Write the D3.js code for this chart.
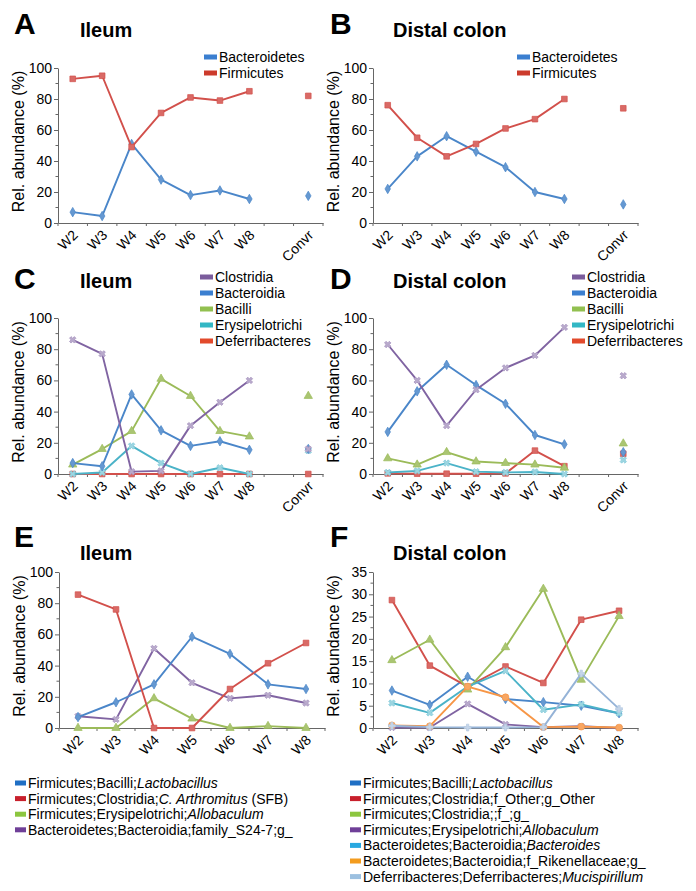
<!DOCTYPE html>
<html>
<head>
<meta charset="utf-8">
<script src="https://cdn.jsdelivr.net/npm/d3@7"></script>
<style>
  body { margin: 0; background: #fff; }
  svg { font-family: "Liberation Sans", Arial, Helvetica, sans-serif; }
</style>
</head>
<body>
<svg id="fig" width="696" height="891"></svg>
<script>
// ---- categories / ticks
const weeks = ["W2", "W3", "W4", "W5", "W6", "W7", "W8"];
const weeksConvr = ["W2", "W3", "W4", "W5", "W6", "W7", "W8", "gap", "Convr"];
const ticks100 = [0, 20, 40, 60, 80, 100];
const ticks35 = [0, 5, 10, 15, 20, 25, 30, 35];

// ---- A: ileum, phyla (W2..W8, Convr)
const ileumBacteroidetes = [7, 4.5, 51, 28, 18, 21, 15.5, 17.5];
const ileumFirmicutes = [93, 95, 49, 71, 81, 79, 85, 82];

// ---- B: distal colon, phyla
const colonBacteroidetes = [22, 43, 56, 46, 36, 20, 15.5, 12];
const colonFirmicutes = [76, 55, 43, 51, 61, 67, 80, 74];

// ---- C: ileum, classes
const ileumClostridia = [86, 77, 1.5, 2, 31, 46, 60, 16];
const ileumBacteroidia = [7, 5, 51, 28, 18, 21, 15.5, 16];
const ileumBacilli = [6, 16, 27.5, 61, 50, 27.5, 24, 50];
const ileumErysipelotrichi = [0, 1, 18, 7, 0, 4, 0, 15];
const ileumDeferribacteres = [0, 0, 0, 0, 0, 0, 0, 0];

// ---- D: distal colon, classes
const colonClostridia = [83, 60, 31, 54, 68, 76, 94, 63];
const colonBacteroidia = [27, 53, 70, 57, 45, 25, 19, 14];
const colonBacilli = [10, 6, 14, 8, 7, 6, 4, 19.5];
const colonErysipelotrichi = [1, 2, 7, 1.5, 1, 1.3, 0, 9];
const colonDeferribacteres = [0.4, 0.2, 0.2, 0.2, 0.4, 15, 5, 13];

// ---- E: ileum, genera (W2..W8)
const ileumLactobacillus = [7, 16.5, 28, 58.5, 47.5, 28, 25];
const ileumSFB = [85.5, 76, 0, 0, 25, 41.5, 54.5];
const ileumAllobaculum = [0, 0, 19, 6, 0, 1.2, 0];
const ileumS247 = [7.5, 5.5, 51, 29, 19, 21, 16];

// ---- F: distal colon, genera
const colonLactobacillus = [8.4, 5.2, 11.5, 6.5, 5.8, 5.0, 3.3];
const colonClostridiaOther = [28.7, 14, 9.3, 13.8, 10.1, 24.3, 26.3];
const colonClostridiaUnk = [15.2, 19.8, 8.6, 18.1, 31.2, 10.8, 25.1];
const colonAllobaculum = [0.1, 0.1, 5.4, 0.8, 0.2, 0.4, 0];
const colonBacteroides = [5.6, 3.4, 9.3, 12.8, 4.1, 5.3, 3.3];
const colonRikenellaceae = [0.6, 0.4, 9.3, 6.9, 0.2, 0.3, 0.1];
const colonMucispirillum = [0.5, 0.2, 0.1, 0.1, 0.2, 12.2, 4.3];

// line colours and (more saturated) legend swatch colours
const col = {
  blue: "#4a86c9", red: "#d2504b", green: "#9bbb59", purple: "#8064a2",
  aqua: "#4bb3c8", orange: "#f79646", pale: "#95b3d7"
};
const sw = {
  blue: "#3b7fd0", red: "#cc3b2c", green: "#92c050", purple: "#7b5c9c",
  aqua: "#33b7c4", redOrange: "#e24a2c",
  gBlue: "#1f6fc4", gRed: "#c8202c", gGreen: "#8cc63f", gPurple: "#6f3f98",
  gSky: "#29a8e0", gOrange: "#f39c1f", gPale: "#9cc0e0"
};

const svg = d3.select("#fig");

const symbols = {
  diamond: d3.symbol().type(d3.symbolDiamond).size(26),
  square: d3.symbol().type(d3.symbolSquare).size(32),
  triangle: d3.symbol().type(d3.symbolTriangle).size(30),
  circle: d3.symbol().type(d3.symbolCircle).size(36),
  x: d3.symbol().type(d3.symbolCross).size(26),
  plus: d3.symbol().type(d3.symbolCross).size(26)
};

function drawMarker(g, type, cx, cy, color) {
  const light = type === "x" || type === "plus";
  g.append("path")
    .attr("d", symbols[type]())
    .attr("transform", `translate(${cx},${cy})` + (type === "x" ? " rotate(45)" : ""))
    .attr("fill", d3.interpolateRgb(color, "#fff")(light ? 0.45 : 0.15))
    .attr("stroke", d3.interpolateRgb(color, "#fff")(light ? 0.3 : 0))
    .attr("stroke-width", 0.7);
}

function drawPanel(o) {
  const g = svg.append("g");
  const x = d3.scaleBand().domain(o.slots).range([o.left, o.right]);
  const y = d3.scaleLinear().domain([0, o.max]).range([o.bottom, o.top]);
  const cx = k => x(k) + x.bandwidth() / 2;

  // panel letter + title
  g.append("text").attr("x", o.letterX).attr("y", o.letterY)
    .attr("font-size", 30).attr("font-weight", "bold").text(o.letter);
  g.append("text").attr("x", o.titleX).attr("y", o.titleY)
    .attr("font-size", 20).attr("font-weight", "bold").text(o.title);

  // minor y ticks
  g.append("g").selectAll("line")
    .data(d3.pairs(o.ticks, (a, b) => (a + b) / 2))
    .join("line")
    .attr("x1", o.left - 2.5).attr("x2", o.left)
    .attr("y1", d => y(d)).attr("y2", d => y(d))
    .attr("stroke", "#666");

  const yAxisG = g.append("g")
    .attr("transform", `translate(${o.left},0)`)
    .call(d3.axisLeft(y).tickValues(o.ticks).tickSize(4).tickSizeOuter(0).tickPadding(2));
  yAxisG.attr("font-family", null).attr("font-size", 14);
  yAxisG.select(".domain").attr("stroke", "#666");
  yAxisG.selectAll(".tick line").attr("stroke", "#666");
  yAxisG.selectAll(".tick text").attr("fill", "#000");

  // x axis with rotated labels
  const xAxisG = g.append("g")
    .attr("transform", `translate(0,${o.bottom})`)
    .call(d3.axisBottom(x).tickSize(0).tickSizeOuter(0)
      .tickFormat(d => (d === "gap" ? "" : d)));
  xAxisG.attr("font-family", null).attr("font-size", 14);
  xAxisG.select(".domain").attr("stroke", "#666");
  xAxisG.selectAll(".tick text")
    .attr("y", null).attr("dy", null)
    .attr("fill", "#000")
    .attr("text-anchor", "end")
    .attr("transform", "translate(6,13) rotate(-45)");

  // small boundary ticks on x axis
  g.append("g").selectAll("line")
    .data(o.slots.map(s => x(s)).concat([o.right]))
    .join("line")
    .attr("x1", d => d).attr("x2", d => d)
    .attr("y1", o.bottom).attr("y2", o.bottom + 3)
    .attr("stroke", "#666");

  // y label
  g.append("text")
    .attr("transform", `translate(${o.left - 34},${(o.top + o.bottom) / 2 - 4}) rotate(-90)`)
    .attr("text-anchor", "middle")
    .attr("font-size", 16)
    .text("Rel. abundance (%)");

  // series
  const keys = o.slots.filter(k => k !== "gap");
  o.series.forEach(s => {
    const pts = keys.map((k, i) => ({ k, v: s.values[i] })).filter(p => p.v != null);
    const linePts = pts.filter(p => p.k !== "Convr");
    g.append("path")
      .datum(linePts)
      .attr("fill", "none")
      .attr("stroke", s.color)
      .attr("stroke-width", 1.9)
      .attr("stroke-linejoin", "round")
      .attr("d", d3.line().x(p => cx(p.k)).y(p => y(p.v)));
    pts.forEach(p => drawMarker(g, s.marker, cx(p.k), y(p.v), s.color));
  });

  // legend
  if (o.legend) {
    const lg = g.append("g");
    o.series.slice().sort((a, b) => a.order - b.order).forEach((s, i) => {
      const ly = o.legend.y + i * o.legend.dy;
      lg.append("rect").attr("x", o.legend.x).attr("y", ly - 2.5)
        .attr("width", 13).attr("height", 5).attr("fill", s.swatch);
      lg.append("text").attr("x", o.legend.x + 15).attr("y", ly + 5)
        .attr("font-size", 14).text(s.name);
    });
  }
}

// ---- A
drawPanel({
  letter: "A", letterX: 14, letterY: 34, title: "Ileum", titleX: 80, titleY: 37,
  slots: weeksConvr, left: 58, right: 323, top: 68, bottom: 223, max: 100, ticks: ticks100,
  legend: { x: 204, y: 57, dy: 16 },
  series: [
    { name: "Bacteroidetes", values: ileumBacteroidetes, color: col.blue, swatch: sw.blue, marker: "diamond", order: 0 },
    { name: "Firmicutes", values: ileumFirmicutes, color: col.red, swatch: sw.red, marker: "square", order: 1 }
  ]
});

// ---- B
drawPanel({
  letter: "B", letterX: 330, letterY: 34, title: "Distal colon", titleX: 393, titleY: 37,
  slots: weeksConvr, left: 373, right: 638, top: 68, bottom: 223, max: 100, ticks: ticks100,
  legend: { x: 517, y: 57, dy: 16 },
  series: [
    { name: "Bacteroidetes", values: colonBacteroidetes, color: col.blue, swatch: sw.blue, marker: "diamond", order: 0 },
    { name: "Firmicutes", values: colonFirmicutes, color: col.red, swatch: sw.red, marker: "square", order: 1 }
  ]
});

// ---- C
drawPanel({
  letter: "C", letterX: 14, letterY: 289, title: "Ileum", titleX: 80, titleY: 288,
  slots: weeksConvr, left: 58, right: 323, top: 318, bottom: 474, max: 100, ticks: ticks100,
  legend: { x: 200, y: 277, dy: 16 },
  series: [
    { name: "Deferribacteres", values: ileumDeferribacteres, color: col.red, swatch: sw.redOrange, marker: "square", order: 4 },
    { name: "Erysipelotrichi", values: ileumErysipelotrichi, color: col.aqua, swatch: sw.aqua, marker: "x", order: 3 },
    { name: "Bacilli", values: ileumBacilli, color: col.green, swatch: sw.green, marker: "triangle", order: 2 },
    { name: "Bacteroidia", values: ileumBacteroidia, color: col.blue, swatch: sw.blue, marker: "diamond", order: 1 },
    { name: "Clostridia", values: ileumClostridia, color: col.purple, swatch: sw.purple, marker: "x", order: 0 }
  ]
});

// ---- D
drawPanel({
  letter: "D", letterX: 330, letterY: 289, title: "Distal colon", titleX: 393, titleY: 288,
  slots: weeksConvr, left: 373, right: 638, top: 318, bottom: 474, max: 100, ticks: ticks100,
  legend: { x: 572, y: 277, dy: 16 },
  series: [
    { name: "Deferribacteres", values: colonDeferribacteres, color: col.red, swatch: sw.redOrange, marker: "square", order: 4 },
    { name: "Erysipelotrichi", values: colonErysipelotrichi, color: col.aqua, swatch: sw.aqua, marker: "x", order: 3 },
    { name: "Bacilli", values: colonBacilli, color: col.green, swatch: sw.green, marker: "triangle", order: 2 },
    { name: "Bacteroidia", values: colonBacteroidia, color: col.blue, swatch: sw.blue, marker: "diamond", order: 1 },
    { name: "Clostridia", values: colonClostridia, color: col.purple, swatch: sw.purple, marker: "x", order: 0 }
  ]
});

// ---- E
drawPanel({
  letter: "E", letterX: 14, letterY: 547, title: "Ileum", titleX: 80, titleY: 560,
  slots: weeks, left: 59, right: 325, top: 572, bottom: 728, max: 100, ticks: ticks100,
  series: [
    { values: ileumAllobaculum, color: col.green, marker: "triangle" },
    { values: ileumS247, color: col.purple, marker: "x" },
    { values: ileumLactobacillus, color: col.blue, marker: "diamond" },
    { values: ileumSFB, color: col.red, marker: "square" }
  ]
});

// ---- F
drawPanel({
  letter: "F", letterX: 330, letterY: 547, title: "Distal colon", titleX: 393, titleY: 560,
  slots: weeks, left: 373, right: 638, top: 572, bottom: 728, max: 35, ticks: ticks35,
  series: [
    { values: colonLactobacillus, color: col.blue, marker: "diamond" },
    { values: colonClostridiaOther, color: col.red, marker: "square" },
    { values: colonClostridiaUnk, color: col.green, marker: "triangle" },
    { values: colonAllobaculum, color: col.purple, marker: "x" },
    { values: colonBacteroides, color: col.aqua, marker: "x" },
    { values: colonRikenellaceae, color: col.orange, marker: "circle" },
    { values: colonMucispirillum, color: col.pale, marker: "plus" }
  ]
});

// ---- bottom legends (E and F), taxonomy strings with italic genus parts
const legendE = [
  [["Firmicutes;Bacilli;", false], ["Lactobacillus", true]],
  [["Firmicutes;Clostridia;", false], ["C. Arthromitus", true], [" (SFB)", false]],
  [["Firmicutes;Erysipelotrichi;", false], ["Allobaculum", true]],
  [["Bacteroidetes;Bacteroidia;family_S24-7;g_", false]]
];
const legendEColors = [sw.gBlue, sw.gRed, sw.gGreen, sw.gPurple];
const legendF = [
  [["Firmicutes;Bacilli;", false], ["Lactobacillus", true]],
  [["Firmicutes;Clostridia;f_Other;g_Other", false]],
  [["Firmicutes;Clostridia;;f_;g_", false]],
  [["Firmicutes;Erysipelotrichi;", false], ["Allobaculum", true]],
  [["Bacteroidetes;Bacteroidia;", false], ["Bacteroides", true]],
  [["Bacteroidetes;Bacteroidia;f_Rikenellaceae;g_", false]],
  [["Deferribacteres;Deferribacteres;", false], ["Mucispirillum", true]]
];
const legendFColors = [sw.gBlue, sw.gRed, sw.gGreen, sw.gPurple, sw.gSky, sw.gOrange, sw.gPale];

function drawTaxLegend(items, colors, x0, y0, dy) {
  const g = svg.append("g");
  items.forEach((parts, i) => {
    const ly = y0 + i * dy;
    g.append("rect").attr("x", x0).attr("y", ly - 2.5).attr("width", 11).attr("height", 5)
      .attr("fill", colors[i]);
    const t = g.append("text").attr("x", x0 + 13).attr("y", ly + 5).attr("font-size", 14);
    parts.forEach(([txt, it]) => {
      t.append("tspan").attr("font-style", it ? "italic" : null).text(txt);
    });
  });
}
drawTaxLegend(legendE, legendEColors, 15, 783, 15.6);
drawTaxLegend(legendF, legendFColors, 350, 783, 15.6);
</script>
</body>
</html>
